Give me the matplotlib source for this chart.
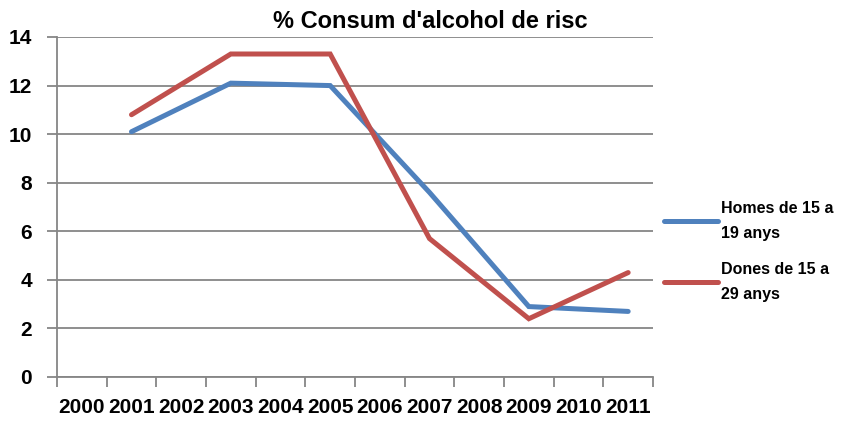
import numpy as np
import matplotlib.pyplot as plt

# Data
years = ['2000', '2001', '2002', '2003', '2004', '2005',
         '2006', '2007', '2008', '2009', '2010', '2011']
homes = [np.nan, 10.1, np.nan, 12.1, np.nan, 12.0,
         np.nan, 7.6, np.nan, 2.9, np.nan, 2.7]
dones = [np.nan, 10.8, np.nan, 13.3, np.nan, 13.3,
         np.nan, 5.7, np.nan, 2.4, np.nan, 4.3]
labels = ["Homes de 15 a\n19 anys", "Dones de 15 a\n29 anys"]

plt.rcParams['font.family'] = ['Liberation Sans', 'DejaVu Sans']

fig = plt.figure(figsize=(8.44, 4.21), dpi=100)
ax = fig.add_axes([57 / 844, 1 - 377 / 421, (653 - 57) / 844, (377 - 37) / 421])

x = np.arange(len(years))
for vals, color, lab in [(homes, '#4F81BD', labels[0]), (dones, '#C0504D', labels[1])]:
    v = np.array(vals, dtype=float)
    m = ~np.isnan(v)
    ax.plot(x[m], v[m], color=color, linewidth=3.6, solid_capstyle='round',
            solid_joinstyle='miter', label=lab)

ax.set_xlim(-0.5, len(years) - 0.5)
ax.set_ylim(0, 14)
ax.set_yticks(np.arange(0, 15, 2))
ax.yaxis.grid(True, color='#868686', linewidth=1.3)
ax.set_axisbelow(True)

# category boundaries as ticks, labels centred in each category
ax.set_xticks(np.arange(-0.5, len(years), 1.0))
ax.set_xticklabels([])
ax.set_xticks(x, minor=True)
ax.set_xticklabels(years, minor=True, fontsize=15, fontweight='bold')
ax.tick_params(axis='x', which='minor', length=0, pad=15)
ax.tick_params(axis='x', which='major', length=7, width=1.3, color='#868686')
ax.tick_params(axis='y', length=7, width=1.3, color='#868686', pad=11,
               labelsize=15)
for t in ax.get_yticklabels():
    t.set_fontweight('bold')

for s in ['top', 'right']:
    ax.spines[s].set_visible(False)
for s in ['left', 'bottom']:
    ax.spines[s].set_color('#868686')
    ax.spines[s].set_linewidth(1.3)

fig.text(430 / 844, 1 - 22 / 421, "% Consum d'alcohol de risc", ha='center',
         va='center', fontsize=17, fontweight='bold')

leg = ax.legend(loc='center left', frameon=False,
                fontsize=11.5, handlelength=3.4, handletextpad=0.2,
                labelspacing=1.3, borderaxespad=0.0, borderpad=0.0)
leg.set_bbox_to_anchor((1.018, 0.37), transform=ax.transAxes)
for t in leg.get_texts():
    t.set_fontweight('bold')
    t.set_linespacing(1.85)

fig.savefig('out.png', dpi=100)
